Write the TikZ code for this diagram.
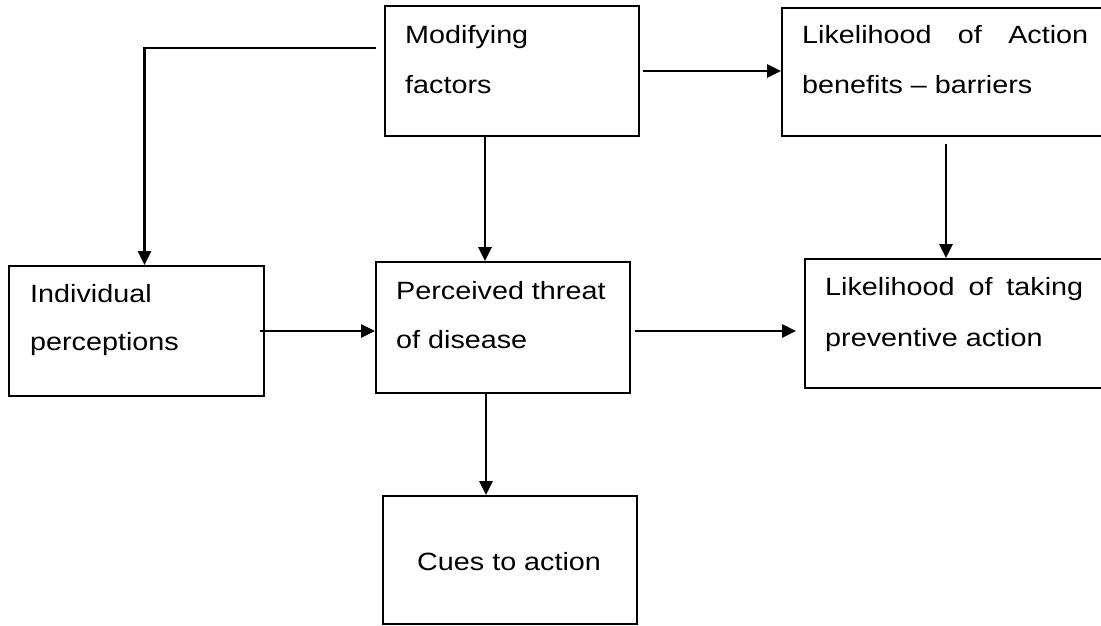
\documentclass[tikz,border=0pt]{standalone}
\usepackage{fontspec}
\setmainfont{Liberation Sans}[FakeStretch=1.15]
\usetikzlibrary{arrows.meta}
\begin{document}
\begin{tikzpicture}[x=1pt,y=-1pt,
  box/.style={draw=black,line width=1.8pt,minimum width=#1,inner sep=0pt},
  lbl/.style={anchor=base west,inner sep=0pt,font=\fontsize{25}{50}\selectfont},
  arr/.style={line width=2.5pt,-{Triangle[length=14pt,width=13pt]}},
  ln/.style={line width=2.5pt}]
\useasboundingbox (0,0) rectangle (1101,625);
% boxes
\node[box=254pt,minimum height=130pt] (mod)  at (512,71) {};
\node[box=328pt,minimum height=128pt] (lact) at (946,72) {};
\node[box=255pt,minimum height=130pt] (ind)  at (136.5,331) {};
\node[box=254pt,minimum height=131pt] (per)  at (503,327.5) {};
\node[box=305pt,minimum height=129pt] (ltak) at (957.5,323.5) {};
\node[box=254pt,minimum height=128pt] (cues) at (510,560) {};
% texts
\node[lbl] (modA) at (405,43) {Modifying};
\node[lbl] (modB) at (405,93) {factors};
\node[lbl] (lactA) at (802,43) {\makebox[286pt][s]{Likelihood of Action}};
\node[lbl] (lactB) at (802,93) {benefits – barriers};
\node[lbl] (indA) at (30,302) {Individual};
\node[lbl] (indB) at (30,350) {perceptions};
\node[lbl] (perA) at (396,299) {Perceived threat};
\node[lbl] (perB) at (396,348) {of disease};
\node[lbl] (ltakA) at (825,295) {\makebox[258pt][s]{Likelihood of taking}};
\node[lbl] (ltakB) at (825,346) {preventive action};
\node[lbl] (cuesA) at (417,570) {Cues to action};
% connectors
\draw[arr] ([xshift=3pt]mod.east) -- (lact.west |- mod.east);
\draw[arr] ([xshift=-27pt]mod.south) -- ([xshift=-27pt]mod.south |- per.north);
\draw[arr] ([yshift=-7pt]lact.south) -- (lact.south |- ltak.north);
\draw[arr] ([xshift=-5pt]ind.east) -- (ind.east -| per.west);
\draw[arr] ([xshift=4pt,yshift=-3.5pt]per.east) -- ([xshift=-8pt,yshift=-3.5pt]per.east -| ltak.west);
\draw[arr] ([xshift=-17pt]per.south) -- ([xshift=-17pt]per.south |- cues.north);
\draw[arr] ([xshift=-8pt,yshift=23pt]mod.west) -| ([xshift=8pt]ind.north);
\end{tikzpicture}
\end{document}
